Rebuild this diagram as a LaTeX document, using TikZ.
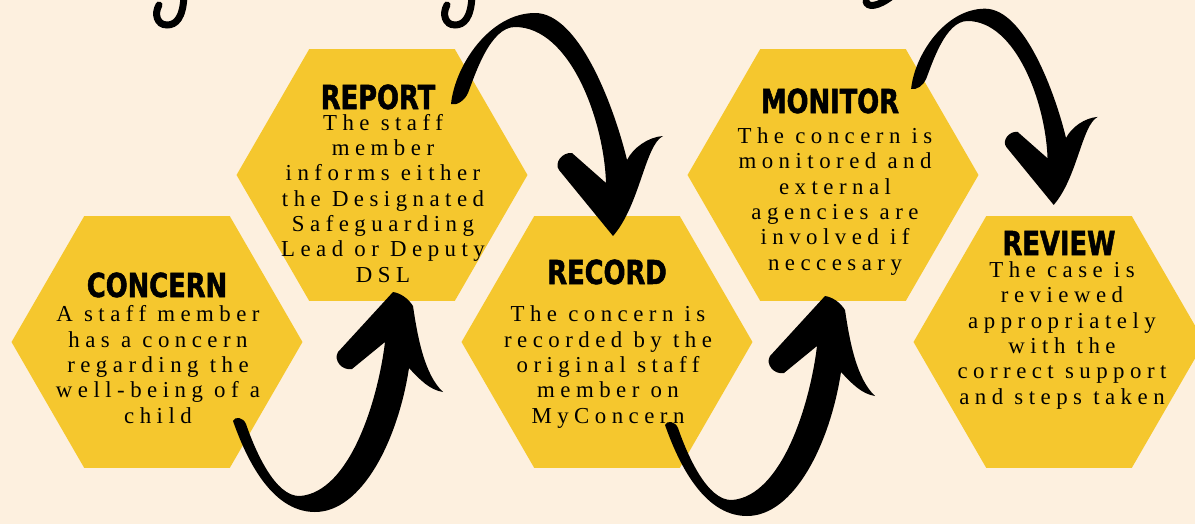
\documentclass[tikz,border=0pt]{standalone}
\usepackage{fontspec}
\setmainfont{Liberation Serif}
\newfontfamily\bodyfont{Liberation Serif}[LetterSpace=24]
\newfontfamily\headfont{DejaVu Sans}[FakeStretch=0.78,BoldFeatures={FakeBold=1.5}]
\usetikzlibrary{shapes.geometric}

\definecolor{cream}{RGB}{253,240,223}
\definecolor{honey}{RGB}{245,199,46}

\tikzset{
  hexa/.style={regular polygon,regular polygon sides=6,minimum size=5.82cm,inner sep=0pt,fill=honey},
  head/.style={font=\headfont\bfseries\fontsize{18.8}{20}\selectfont,anchor=base,inner sep=0pt},
  body/.style={font=\bodyfont\fontsize{13}{14.4}\selectfont,align=center,anchor=base,inner sep=0pt},
  hook/.style={line width=0.14cm,line cap=round}
}

\begin{document}
\begin{tikzpicture}[x=0.02cm,y=-0.02cm]
\fill[cream] (0,0) rectangle (1195,524);
\useasboundingbox (0,0) rectangle (1195,524);

% honeycomb
\node[hexa] (concern) at (157,342) {};
\node[hexa] (report)  at (382,175) {};
\node[hexa] (record)  at (607,342) {};
\node[hexa] (monitor) at (833,175) {};
\node[hexa] (review)  at (1059,342) {};

% bits of the cut-off title
\foreach \sx in {0,288}{
  \draw[hook,shift={(\sx,0)}] (184,-4) .. controls (183,18) and (176,25) .. (167,25)
    .. controls (157,25) and (154,14) .. (159,5);
}
\draw[hook] (866,1) .. controls (867,8) and (878,7) .. (892,-4);

% step titles
\node[head] (concernhead) at (157,297) {CONCERN};
\node[head] (reporthead)  at (378,109) {REPORT};
\node[head] (recordhead)  at (607,284) {RECORD};
\node[head] (monitorhead) at (830,113) {MONITOR};
\node[head] (reviewhead)  at (1059,255) {REVIEW};

% step texts (placed by their last line)
\node[body] (concerntext) at (158,423) {A staff member\\has a concern\\regarding the\\well-being of a\\child};
\node[body] (reporttext)  at (383,282) {The staff\\member\\informs either\\the Designated\\Safeguarding\\Lead or Deputy\\DSL};
\node[body] (recordtext)  at (608,423) {The concern is\\recorded by the\\original staff\\member on\\MyConcern};
\node[body] (monitortext) at (835,270) {The concern is\\monitored and\\external\\agencies are\\involved if\\neccesary};
\node[body] (reviewtext)  at (1062,404) {The case is\\reviewed\\appropriately\\with the\\correct support\\and steps taken};

% brush arrows going up
\foreach \sx/\sy in {0/0,432/4}{
  \fill[shift={(\sx,\sy)}] (233,421) .. controls (245,455) and (270,512) .. (315,512)
    .. controls (362,512) and (398,440) .. (409,368)
    .. controls (420,380) and (430,390) .. (443,392)
    .. controls (425,375) and (418,340) .. (413,306)
    .. controls (408,298) and (400,293) .. (393,292)
    -- (338,352) .. controls (333,360) and (342,371) .. (352,369)
    -- (385,342)
    .. controls (378,400) and (350,492) .. (300,496)
    .. controls (275,497) and (255,450) .. (246,424)
    .. controls (243,417) and (235,416) .. cycle;
}
% brush arrows going down
\foreach \sx/\sy/\sc in {452/102/1,912/87/0.88}{
  \fill[shift={(\sx,\sy)},scale=\sc,shift={(-452,-102)}] (451,104) .. controls (455,65) and (490,13) .. (535,13)
    .. controls (580,13) and (615,110) .. (627,160)
    .. controls (633,148) and (648,137) .. (663,136)
    .. controls (645,145) and (640,205) .. (613,236)
    -- (559,170) .. controls (554,163) and (562,152) .. (572,153)
    -- (606,183)
    .. controls (604,120) and (570,27) .. (515,27)
    .. controls (490,27) and (475,75) .. (468,93)
    .. controls (465,100) and (457,106) .. cycle;
}
\end{tikzpicture}
\end{document}
